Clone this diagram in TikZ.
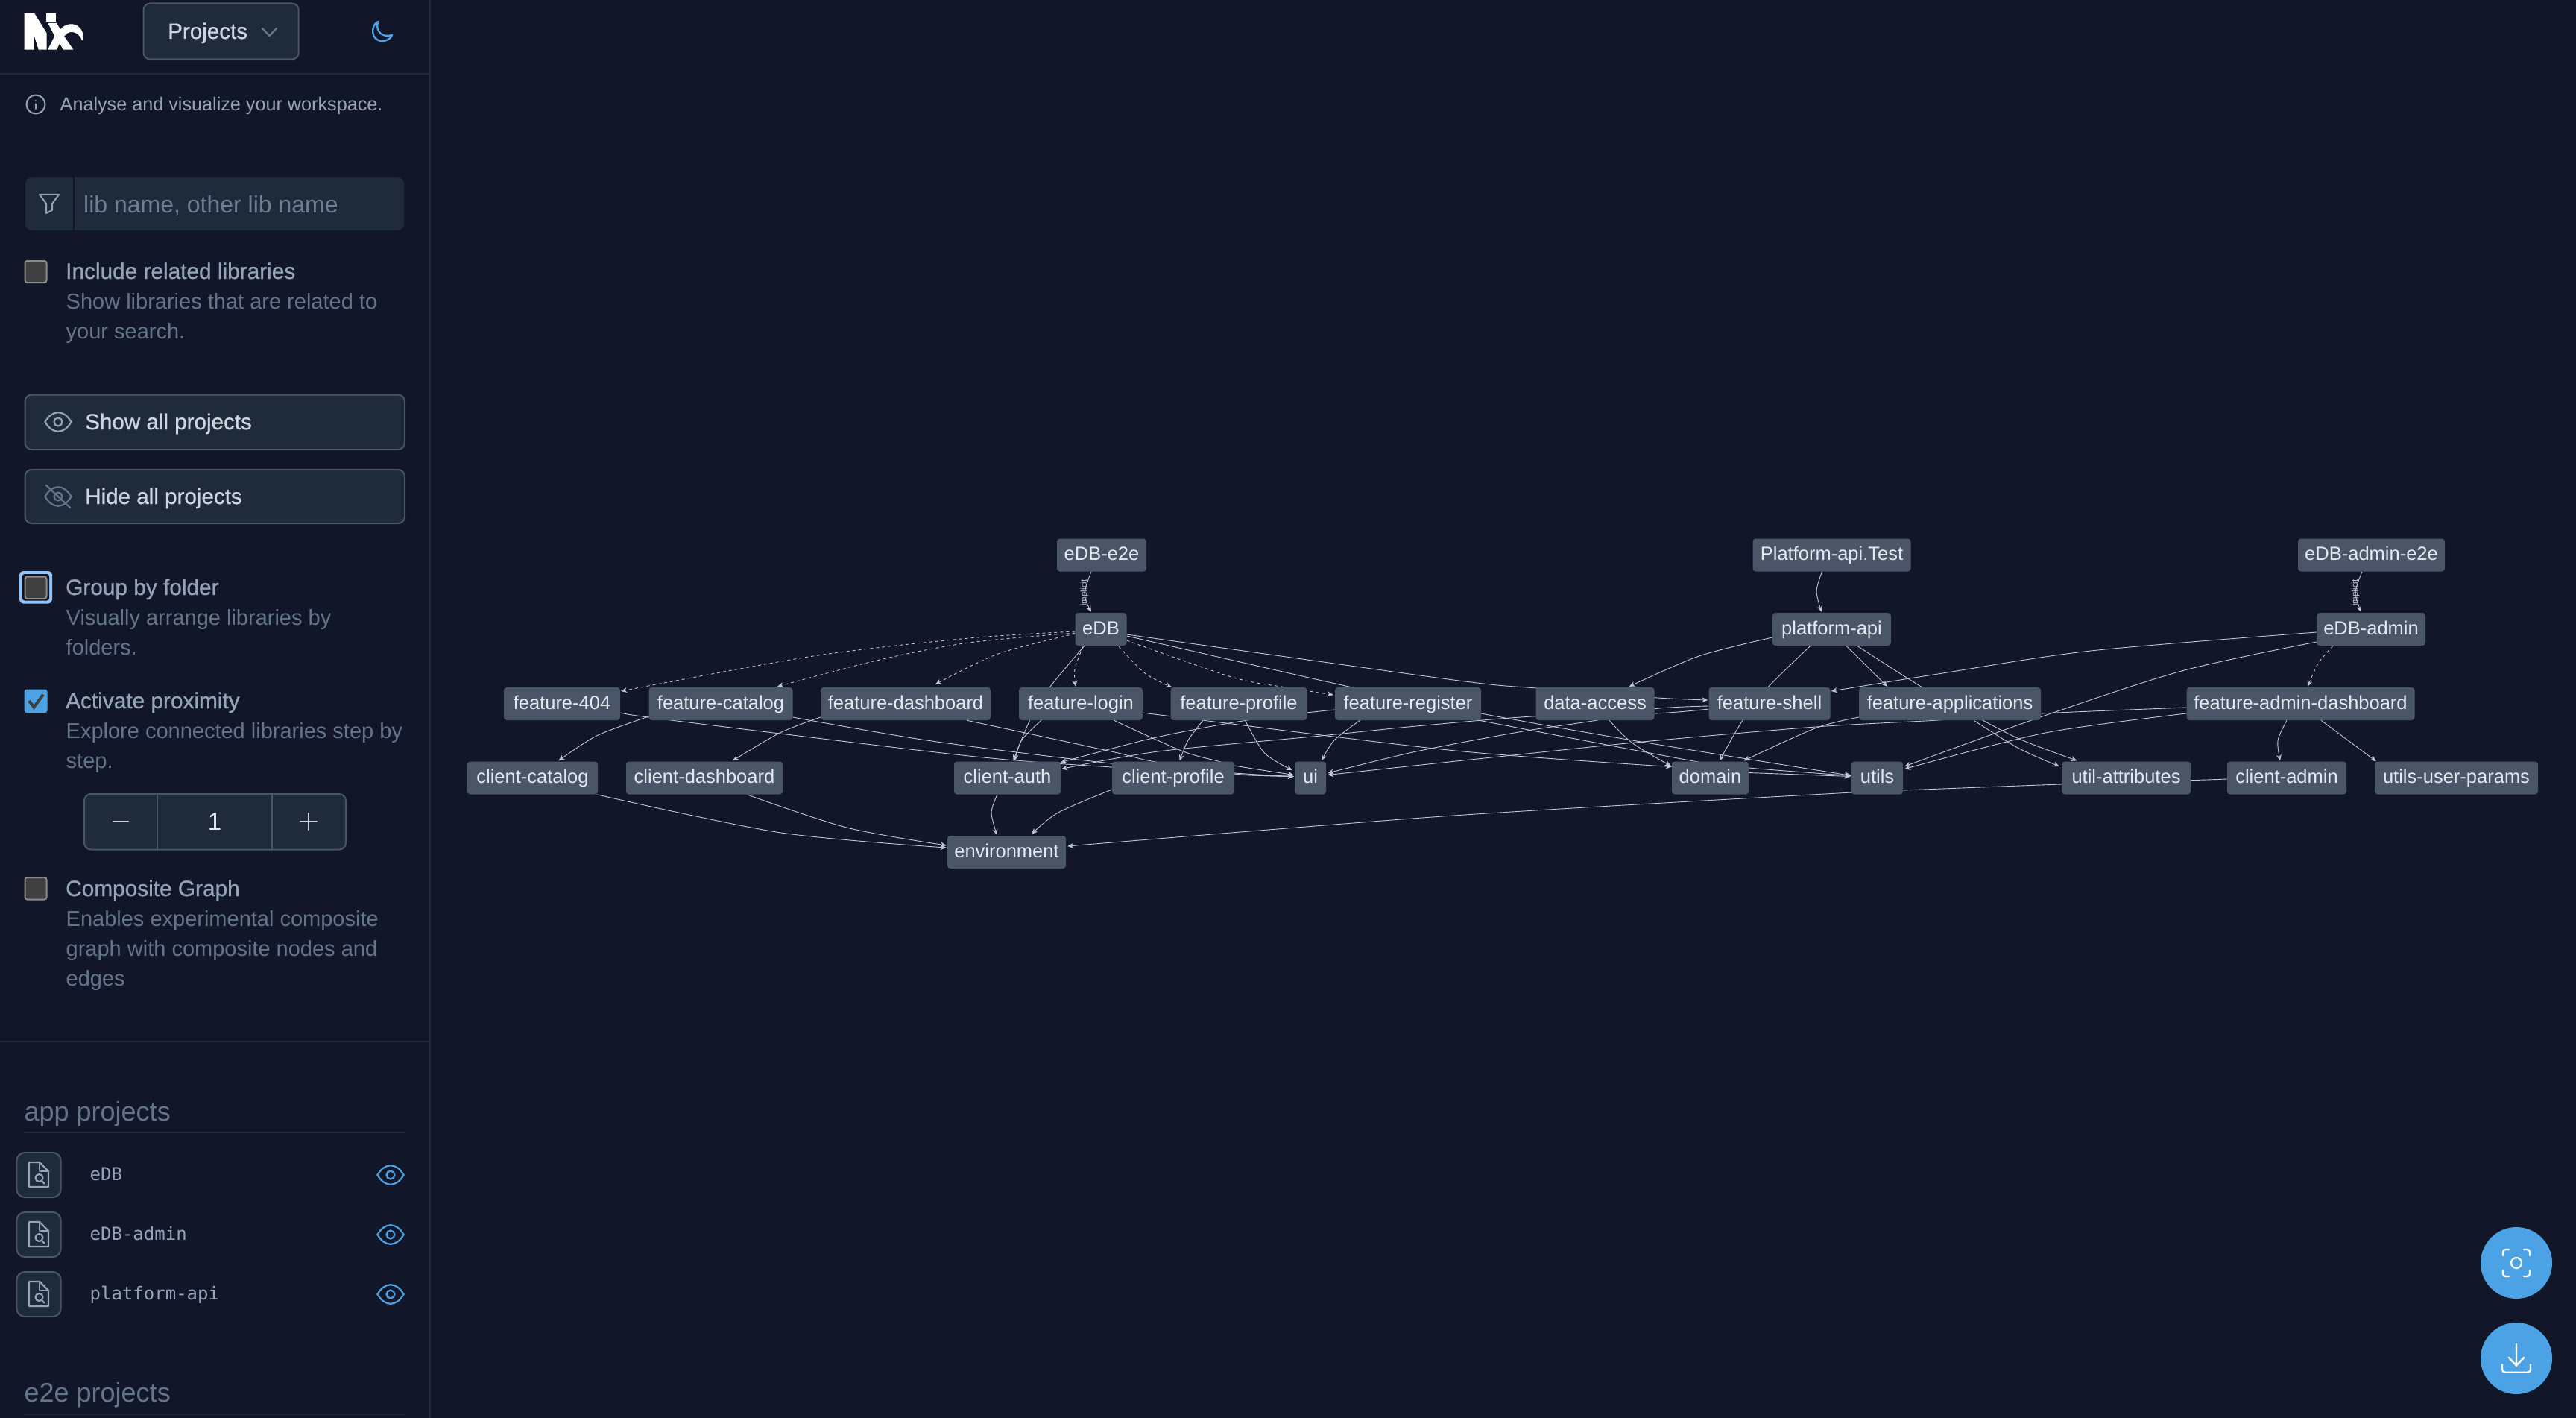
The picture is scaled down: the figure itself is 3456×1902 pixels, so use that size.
\documentclass[tikz,border=0pt]{standalone}
\usepackage{fontspec}
\setmainfont{Liberation Sans}
\setmonofont{DejaVu Sans Mono}
\newfontfamily\medfont[FakeBold=0.8]{Liberation Sans}
\usetikzlibrary{arrows.meta}
\definecolor{pagebg}{HTML}{111729}
\definecolor{panel}{HTML}{1F2A3B}
\definecolor{rim}{HTML}{4A5568}
\definecolor{rule}{HTML}{1F2A3B}
\definecolor{soft}{HTML}{CBD5E1}
\definecolor{mid}{HTML}{94A3B8}
\definecolor{dim}{HTML}{64748B}
\definecolor{sky}{HTML}{4BA3E6}
\definecolor{ringblue}{HTML}{93C5FD}
\definecolor{boxgray}{HTML}{404040}
\definecolor{linkc}{HTML}{BFC7D3}
\definecolor{libtext}{HTML}{E2E8F0}
\pgfdeclarelayer{bg}
\pgfdeclarelayer{edges}
\pgfsetlayers{bg,edges,main}
\newcommand{\pin}[3]{([shift={(#2,#3)}]#1)}
\newcommand{\dep}[2][]{\draw[dep,#1] plot[smooth] coordinates {#2};}
\tikzset{
	lib/.style={fill=rim,rounded corners=4pt,text=libtext,font=\fontsize{25.5}{26}\selectfont,inner sep=0pt,minimum height=44pt,text height=18pt,text depth=4pt},
	dep/.style={->,draw=linkc,line width=0.9pt},
	lazy/.style={dash pattern=on 4pt off 4pt},
	implicitlbl/.style={rotate=90,text=linkc,inner sep=0pt,font=\fontsize{11.5}{12}\selectfont},
	headlbl/.style={anchor=base west,inner sep=0pt,text=mid,font=\medfont\fontsize{29.8}{30}\selectfont},
	sublbl/.style={anchor=base west,inner sep=0pt,text=dim,font=\fontsize{29}{30}\selectfont},
	btnlbl/.style={anchor=base west,inner sep=0pt,text=soft,font=\medfont\fontsize{29.6}{30}\selectfont},
	grouplbl/.style={anchor=base west,inner sep=0pt,text=dim,font=\fontsize{36}{36}\selectfont},
	monolbl/.style={anchor=base west,inner sep=0pt,text=mid,font=\ttfamily\fontsize{24}{24}\selectfont},
	ctrl/.style={draw=rim,fill=panel,line width=2pt,rounded corners=9pt},
	tick/.style={draw=white!40!boxgray,fill=boxgray,line width=2pt,rounded corners=3pt},
	pics/eyeicon/.style={code={
		\draw[line width=2.2pt] (-17.5,0) .. controls (-8,-17) and (8,-17) .. (17.5,0) .. controls (8,17) and (-8,17) .. (-17.5,0) -- cycle;
		\draw[line width=2.2pt] (0,0) circle (5.5);
	}},
	pics/docicon/.style={code={
		\draw[ctrl,rounded corners=11pt] (-29.7,-30) rectangle (29.7,30);
		\draw[mid,line width=2.2pt,line join=round] (-13,-17) -- (1,-17) -- (13,-5) -- (13,16) -- (-13,16) -- cycle;
		\draw[mid,line width=2.2pt,line join=round] (1,-17) -- (1,-5) -- (13,-5);
		\draw[mid,line width=2.2pt] (0.5,4) circle (5);
		\draw[mid,line width=2.2pt] (4,8) -- (7.5,11.5);
	}},
}
\begin{document}
\begin{tikzpicture}[x=1pt,y=-1pt,>={Stealth[length=8pt,width=7pt]},line cap=round]
	\useasboundingbox (0,0) rectangle (3456,1902);
	\begin{pgfonlayer}{bg}
		\fill[pagebg] (0,0) rectangle (3456,1902);
	\end{pgfonlayer}
	% graph nodes
	\foreach \nm/\txt/\xx/\yy/\ww in {
		edbetoe/eDB-e2e/1478/744.5/120, pltest/Platform-api.Test/2457.5/744.5/212, adminetoe/eDB-admin-e2e/3181.5/744.5/197,
		edb/eDB/1477/844/69, plapi/platform-api/2457.5/844/159, edbadmin/eDB-admin/3181/844/146,
		ffour/feature-404/754/944/156, fcat/feature-catalog/967/944/193, fdash/feature-dashboard/1215/944/228,
		flogin/feature-login/1450/944/166, fprof/feature-profile/1662/944/183, freg/feature-register/1889/944/196,
		daccess/data-access/2140/944/159, fshell/feature-shell/2374/944/163, fapps/feature-applications/2616/944/244,
		fadmin/feature-admin-dashboard/3086.5/944/306,
		ccat/client-catalog/714.5/1043.5/175, cdash/client-dashboard/945/1043.5/210, cauth/client-auth/1351.5/1043.5/143,
		cprof/client-profile/1574/1043.5/164, ui/ui/1758/1043.5/42, domain/domain/2294.5/1043.5/103, utils/utils/2518.5/1043.5/69,
		uattr/util-attributes/2852.5/1043.5/173, cadmin/client-admin/3068/1043.5/160, uparams/utils-user-params/3295.5/1043.5/219,
		env/environment/1350.5/1143/159}
		\node[lib,minimum width=\ww pt] (\nm) at (\xx,\yy) {\txt};
	\node[implicitlbl] (implicita) at (1455,795) {implicit};
	\node[implicitlbl] (implicitb) at (3160,795) {implicit};
	% edges run under the boxes
	\begin{pgfonlayer}{edges}
		\dep[lazy]{\pin{edb.west}{0}{3} (1300,856) (1091,880) \pin{ffour.east}{1}{-17}}
		\dep[lazy]{\pin{edb.west}{0}{5} (1300,862) (1180,885) \pin{fcat.north}{76}{-1}}
		\dep[lazy]{\pin{edb.west}{0}{6} (1339,877) \pin{fdash.north}{40}{-4}}
		\dep[lazy]{\pin{edb.south}{-24}{1} (1442,897) \pin{flogin.north}{-7}{-1}}
		\dep[lazy]{\pin{edb.south}{24}{1} (1536,903) \pin{fprof.north}{-90}{0}}
		\dep[lazy]{\pin{edb.east}{0}{15} (1652,908) (1723,921.7) \pin{freg.west}{-2}{-12}}
		\dep[lazy]{\pin{edbadmin.south}{-51}{0} (3110,890) \pin{fadmin.north}{9.5}{-1}}
		\dep{\pin{edb.east}{0}{7} (1950,912) (2060.7,923) (2219.6,935.7) \pin{fshell.west}{-1}{-5}}
		\dep{\pin{edb.east}{0}{9} (1813,921.7) (1987,957) (2190,993) \pin{utils.west}{0}{-3}}
		\dep{\pin{edb.south}{-22}{0} (1408.5,921.7) (1381.7,966) \pin{cauth.north}{8}{-1}}
		\dep{\pin{flogin.south}{-53}{0} (1370.5,993) \pin{cauth.north}{10}{-1}}
		\dep{\pin{fdash.south}{82}{0} (1491,1008) (1545,1021) (1656,1038) \pin{ui.west}{-1}{-2}}
		\dep{\pin{flogin.south}{44.6}{0} (1585,1007) (1634,1021) (1656,1027) \pin{ui.west}{-1}{-4}}
		\dep{\pin{fcat.east}{0}{18} (1250,994) (1491,1024) (1656,1037) \pin{ui.west}{-1}{-2}}
		\dep{\pin{ffour.east}{0}{12} (900,966) (1300,1014) (1491,1029) (1656,1039) \pin{ui.west}{-1}{-2}}
		\dep{\pin{fprof.south}{-48}{0} (1594,993) \pin{cprof.north}{8.6}{-1}}
		\dep{\pin{fprof.south}{8.5}{0} (1696.4,1010) \pin{ui.west}{-3}{-10.5}}
		\dep{\pin{freg.south}{-64.5}{0} (1790,993) \pin{ui.north}{15}{-1}}
		\dep{\pin{freg.west}{0}{8} (1753,956) (1660.7,968) (1547,990) \pin{cauth.east}{0}{-21}}
		\dep{\pin{fshell.west}{0}{7} (2219.6,957) (2060.7,960.7) (1900,974) (1772,987) (1553.6,1008) \pin{cauth.east}{1}{-12}}
		\dep{\pin{fshell.west}{0}{3} (2219.6,950.7) (2143,966) (2043,981) (1900,1008) \pin{ui.east}{2}{-6.5}}
		\dep{\pin{fadmin.west}{0}{5} (2738,957) (2600.6,966) (2435.7,975) (2203.6,995) (2029.5,1013) (1900,1026.7) \pin{ui.east}{2}{-4}}
		\dep{\pin{flogin.east}{0}{12} (1570.5,960.7) (1950,1006.7) \pin{domain.west}{0}{-15}}
		\dep{\pin{daccess.south}{19}{0} (2190,996.7) \pin{domain.west}{-1}{-16}}
		\dep{\pin{plapi.south}{-28.5}{0} (2372,921.7) (2338,966) \pin{domain.north}{12.5}{-1}}
		\dep{\pin{fapps.west}{0}{18} (2435.7,976.7) \pin{domain.north}{45}{-1}}
		\dep{\pin{freg.east}{-4}{22} (2272.8,1021) (2346,1030) \pin{utils.west}{-1}{-3}}
		\dep{\pin{domain.east}{0}{-7} \pin{utils.west}{-1}{-2}}
		\dep{\pin{plapi.west}{0}{11} (2279.5,880) \pin{daccess.north}{45.7}{-1}}
		\dep{\pin{plapi.south}{19.5}{0} (2504,893) \pin{fapps.north}{-84}{-1}}
		\dep{\pin{plapi.south}{34}{0} (2578.6,921.7) (2659.8,966) (2713.4,993) \pin{uattr.north}{-66}{-1}}
		\dep{\pin{fapps.south}{32}{0} (2707,1003) \pin{uattr.west}{-3}{-15.5}}
		\dep{\pin{pltest.south}{-13}{0} (2437,793) \pin{plapi.north}{-13.7}{-1}}
		\dep{\pin{edbetoe.south}{-14}{0} (1455,797) \pin{edb.north}{-13}{-1}}
		\dep{\pin{adminetoe.south}{-12.5}{0} (3160,795) \pin{edbadmin.north}{-13.3}{-1}}
		\dep{\pin{edbadmin.west}{0}{4} (2805,873) (2600,904) (2500,920) \pin{fshell.east}{1}{-17}}
		\dep{\pin{edbadmin.west}{0}{17} (2927,900) (2738,961.7) \pin{utils.east}{2}{-15.5}}
		\dep{\pin{fadmin.west}{0}{13} (2744,983) \pin{utils.east}{2}{-12}}
		\dep{\pin{fadmin.south}{-18.5}{0} (3056,993) \pin{cadmin.north}{-9}{-1}}
		\dep{\pin{fadmin.south}{27.5}{0} \pin{uparams.north}{-107.5}{0}}
		\dep{\pin{cadmin.west}{0}{1.5} (2939,1046.7) (2766,1052) (2553.6,1060) (2484,1063) (1950,1094) \pin{env.east}{2}{-8}}
		\dep{\pin{cauth.south}{-13.5}{0} (1330,1090) \pin{env.north}{-13}{-1}}
		\dep{\pin{cprof.west}{0}{15.5} (1419.6,1090) \pin{env.north}{33.5}{-2}}
		\dep{\pin{ccat.south}{86}{0} (1046,1116.7) \pin{env.west}{-1}{-6}}
		\dep{\pin{cdash.south}{57}{0} (1135.7,1110) \pin{env.west}{-1}{-9}}
		\dep{\pin{fcat.west}{0}{17} (801,986.7) \pin{ccat.north}{35}{-1}}
		\dep{\pin{fdash.west}{0}{18} (1046.4,983) \pin{cdash.north}{38}{-1}}
	\end{pgfonlayer}
	% sidebar
	\draw[rule,line width=2pt] (577,0) -- (577,1902);
	\draw[rule,line width=2pt] (0,99) -- (576,99);
	\draw[rule,line width=2pt] (0,1396.5) -- (576,1396.5);
	\draw[rule,line width=2pt] (32.5,1518.7) -- (544,1518.7);
	\draw[rule,line width=2pt] (32.5,1897) -- (544,1897);
	% logo
	\begin{scope}[shift={(20,5)},x=0.3333pt,y=-0.3333pt]
		\fill[white] (38,38) -- (78,38) -- (128,118) -- (128,185) -- (95,185) -- (78,130) -- (78,185) -- (38,185) -- cycle;
		\fill[white] (125,38) rectangle (165,72);
		\fill[white] (133,78) -- (168,78) -- (183,103) .. controls (205,75) and (255,70) .. (272,115) .. controls (278,130) and (275,150) .. (270,148) .. controls (262,120) and (225,100) .. (205,125) -- (198,130) -- (235,185) -- (195,185) -- (180,160) -- (168,185) -- (132,185) -- (160,130) -- cycle;
	\end{scope}
	\draw[ctrl] (192.5,4.5) rectangle (400.7,79.5);
	\node[btnlbl] (projects) at (225,52) {Projects};
	\draw[dim,line width=2.4pt] (352,38) -- (361.5,48) -- (371,38);
	\draw[sky,line width=2.4pt,line join=round] (507,29) .. controls (497,34) and (497,55) .. (513,55) .. controls (519,55) and (524,52) .. (526,47) .. controls (514,51) and (503,43) .. (507,29) -- cycle;
	\draw[mid,line width=2pt] (48,140) circle (12.5);
	\draw[mid,line width=2pt] (48,135) -- (48,135.5) (48,139.5) -- (48,146);
	\node[anchor=base west,inner sep=0pt,text=mid,font=\fontsize{25.2}{26}\selectfont] (tagline) at (80.5,148.5) {Analyse and visualize your workspace.};
	\fill[panel,rounded corners=9pt] (34,238) rectangle (542,309);
	\draw[pagebg,line width=2pt] (99,238) -- (99,309);
	\draw[mid,line width=2pt,line join=round] (53,261) -- (79,261) -- (70,273) -- (70,282) -- (62,286) -- (62,273) -- cycle;
	\node[anchor=base west,inner sep=0pt,text=dim!80!mid,font=\fontsize{32}{32}\selectfont] (searchhint) at (112,286) {lib name, other lib name};
	\draw[tick] (33.5,350) rectangle (62.5,379);
	\node[headlbl] (relatedlbl) at (88,374) {Include related libraries};
	\node[sublbl] (relatedsuba) at (88.5,414) {Show libraries that are related to};
	\node[sublbl] (relatedsubb) at (88.5,454) {your search.};
	\draw[ctrl] (33.5,529.5) rectangle (543,603);
	\pic[color=mid] at (78,566) {eyeicon};
	\node[btnlbl] (showall) at (114,576) {Show all projects};
	\draw[ctrl] (33.5,630) rectangle (543,702);
	\pic[color=dim] at (78,666) {eyeicon};
	\draw[dim,line width=2.2pt] (62,651) -- (94,681);
	\node[btnlbl] (hideall) at (114,676) {Hide all projects};
	\fill[ringblue,rounded corners=5pt] (26,766) rectangle (70,809.5);
	\fill[pagebg!80!black,rounded corners=3pt] (30,770) rectangle (66,805.5);
	\draw[tick] (33.5,773.5) rectangle (62.5,803);
	\node[headlbl] (folderlbl) at (88,798) {Group by folder};
	\node[sublbl] (foldersuba) at (88.5,838) {Visually arrange libraries by};
	\node[sublbl] (foldersubb) at (88.5,878) {folders.};
	\fill[sky,rounded corners=3pt] (32.5,924.5) rectangle (63.5,956);
	\draw[boxgray,line width=4pt,line join=miter,line cap=butt] (39,940) -- (45.5,948.5) -- (58,931.5);
	\node[headlbl] (proximitylbl) at (88,950) {Activate proximity};
	\node[sublbl] (proximitysuba) at (88.5,990) {Explore connected libraries step by};
	\node[sublbl] (proximitysubb) at (88.5,1030) {step.};
	\draw[ctrl] (113,1065) rectangle (464,1139.5);
	\draw[rim,line width=2pt] (211,1065) -- (211,1139.5) (365,1065) -- (365,1139.5);
	\draw[soft,line width=2.2pt] (152,1102) -- (172,1102);
	\node[anchor=base,inner sep=0pt,text=libtext,font=\fontsize{33}{33}\selectfont] (stepvalue) at (288,1113.5) {1};
	\draw[soft,line width=2.2pt] (403,1102) -- (425,1102) (414,1091) -- (414,1113);
	\draw[tick] (33.5,1177) rectangle (62.5,1206.5);
	\node[headlbl] (compositelbl) at (88,1202) {Composite Graph};
	\node[sublbl] (compositesuba) at (88.5,1242) {Enables experimental composite};
	\node[sublbl] (compositesubb) at (88.5,1282) {graph with composite nodes and};
	\node[sublbl] (compositesubc) at (88.5,1322) {edges};
	\node[grouplbl] (appgroup) at (32.5,1503) {app projects};
	\foreach \nm/\txt/\yy in {rowedb/eDB/1576,rowadmin/eDB-admin/1656,rowapi/platform-api/1736}{
		\pic at (52,\yy) {docicon};
		\node[monolbl] (\nm) at (120.5,\yy+7.5) {\txt};
		\pic[color=sky] at (524,\yy) {eyeicon};
	}
	\node[grouplbl] (etoegroup) at (32.5,1880) {e2e projects};
	% round buttons
	\fill[sky] (3376,1694) circle (48);
	\fill[sky] (3376,1822) circle (48);
	\draw[white,line width=2.2pt] (3376,1694) circle (7);
	\draw[white,line width=2.4pt,rounded corners=3.5pt] (3358,1684) -- (3358,1676) -- (3366,1676) (3386,1676) -- (3394,1676) -- (3394,1684) (3394,1704) -- (3394,1712) -- (3386,1712) (3366,1712) -- (3358,1712) -- (3358,1704);
	\draw[white,line width=2.4pt] (3376,1803) -- (3376,1831.5) (3366,1821) -- (3376,1831.5) -- (3386,1821);
	\draw[white,line width=2.4pt,rounded corners=4pt] (3357,1830) -- (3357,1840.7) -- (3395,1840.7) -- (3395,1830);
\end{tikzpicture}
\end{document}
